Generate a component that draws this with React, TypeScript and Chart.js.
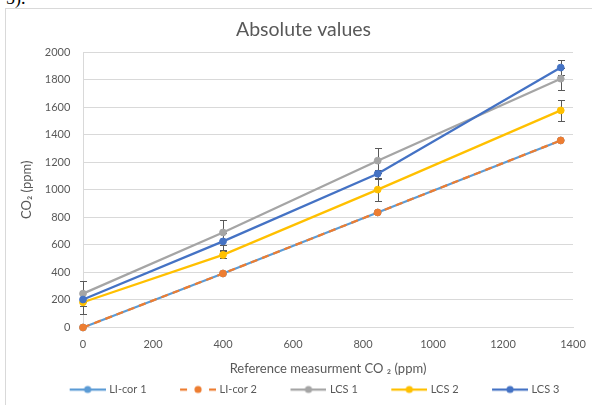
import React, { useEffect, useRef } from 'react';
import { Chart, registerables } from 'chart.js';

Chart.register(...registerables);

// ---- data ----
const xValues = [0, 400, 842, 1365];
const licor1 = [0, 392, 835, 1358];
const licor2 = [0, 392, 835, 1358];
const lcs1 = [246, 690, 1211, 1806];
const lcs2 = [183, 527, 1001, 1576];
const lcs3 = [203, 625, 1116, 1887];
const lcs1Err = [92, 93, 90, 79];
const lcs2Err = [82, 25, 80, 76];
const lcs3Err = [20, 60, 30, 56];

const seriesNames = ['LI-cor 1', 'LI-cor 2', 'LCS 1', 'LCS 2', 'LCS 3'];
const seriesColors = ['#5B9BD5', '#ED7D31', '#A5A5A5', '#FFC000', '#4472C4'];
const chartTitle = 'Absolute values';
const xTitle = 'Reference measurment CO \u2082 (ppm)';
const yTitle = 'CO\u2082 (ppm)';
const xRange = [0, 1400, 200];
const yRange = [0, 2000, 200];

const FONT = 'Lato';
const TEXT = '#595959';
const GRID = '#D9D9D9';

const BOX_W = 56;
const IMG_W = 60;
const LEG_PAD = 11.5;

function makeSymbol(color: string, dashed: boolean) {
  const c = document.createElement('canvas');
  c.width = IMG_W;
  c.height = 10;
  const ctx = c.getContext('2d')!;
  ctx.strokeStyle = color;
  ctx.fillStyle = color;
  ctx.lineWidth = 2.25;
  const s = IMG_W - 36;
  const e = IMG_W;
  ctx.beginPath();
  if (dashed) {
    ctx.moveTo(s, 5); ctx.lineTo(s + 7, 5);
    ctx.moveTo(e - 7, 5); ctx.lineTo(e, 5);
  } else {
    ctx.moveTo(s, 5); ctx.lineTo(e, 5);
  }
  ctx.stroke();
  ctx.beginPath();
  ctx.arc((s + e) / 2, 5, 3.6, 0, Math.PI * 2);
  ctx.fill();
  return c;
}

const errorBarPlugin = {
  id: 'errorBars',
  beforeDatasetsDraw(chart: any) {
    const ctx = chart.ctx;
    const xs = chart.scales.x;
    const ys = chart.scales.y;
    ctx.save();
    ctx.strokeStyle = '#595959';
    ctx.lineWidth = 1;
    chart.data.datasets.forEach((ds: any) => {
      if (!ds.errors) return;
      ds.data.forEach((p: any, i: number) => {
        const e = ds.errors[i];
        if (!e) return;
        const px = Math.round(xs.getPixelForValue(p.x)) + 0.5;
        const top = Math.round(ys.getPixelForValue(p.y + e)) + 0.5;
        const bot = Math.round(ys.getPixelForValue(p.y - e)) + 0.5;
        ctx.beginPath();
        ctx.moveTo(px, top); ctx.lineTo(px, bot);
        ctx.moveTo(px - 3.5, top); ctx.lineTo(px + 3.5, top);
        ctx.moveTo(px - 3.5, bot); ctx.lineTo(px + 3.5, bot);
        ctx.stroke();
      });
    });
    ctx.restore();
  },
};

export default function App() {
  const ref = useRef<HTMLCanvasElement>(null);

  useEffect(() => {
    document.documentElement.style.overflow = 'hidden';
    document.body.style.overflow = 'hidden';
    const values = [licor1, licor2, lcs1, lcs2, lcs3];
    const errs = [null, null, lcs1Err, lcs2Err, lcs3Err];
    const symbols = seriesColors.map((c, i) => makeSymbol(c, i === 1));
    const datasets = values.map((vals, i) => ({
      label: seriesNames[i],
      data: xValues.map((x, j) => ({ x, y: vals[j] })),
      errors: errs[i],
      showLine: true,
      borderColor: seriesColors[i],
      backgroundColor: seriesColors[i],
      pointBackgroundColor: seriesColors[i],
      pointBorderColor: seriesColors[i],
      borderWidth: 2.25,
      borderDash: i === 1 ? [7, 5] : [],
      pointRadius: 3.4,
      pointBorderWidth: 1,
      tension: 0,
      clip: false as any,
      order: 5 - i,
    }));

    const chart = new Chart(ref.current!, {
      type: 'scatter',
      data: { datasets },
      plugins: [errorBarPlugin],
      options: {
        animation: false,
        responsive: false,
        devicePixelRatio: 1,
        layout: { padding: { left: 9, right: 0, top: 0, bottom: 0 } },
        scales: {
          x: {
            type: 'linear',
            min: xRange[0],
            max: xRange[1],
            ticks: {
              stepSize: xRange[2],
              color: TEXT,
              font: { family: FONT, size: 11 },
              padding: 2.4,
              callback: (v: any) => String(v),
            },
            grid: { display: false },
            border: { display: true, color: GRID, width: 1 },
            title: {
              display: true,
              text: xTitle,
              color: TEXT,
              font: { family: FONT, size: 13 },
              padding: { top: 0, bottom: -3.8 },
            },
            afterFit: (s: any) => { s.height = 45; },
          },
          y: {
            type: 'linear',
            min: yRange[0],
            max: yRange[1],
            ticks: {
              stepSize: yRange[2],
              color: TEXT,
              font: { family: FONT, size: 11 },
              padding: 12.7,
              callback: (v: any) => String(v),
            },
            grid: { color: GRID, drawTicks: false, lineWidth: 1 },
            border: { display: true, color: GRID, width: 1 },
            title: {
              display: true,
              text: yTitle,
              color: TEXT,
              font: { family: FONT, size: 13 },
              padding: { top: 3.7, bottom: 0 },
            },
            afterFit: (s: any) => { s.width = 68; },
          },
          yRight: {
            type: 'linear',
            position: 'right',
            display: true,
            grid: { display: false },
            ticks: { display: false },
            border: { display: false },
            afterFit: (s: any) => { s.width = 19; },
          },
        },
        plugins: {
          title: {
            display: true,
            text: chartTitle,
            color: TEXT,
            font: { family: FONT, size: 19.5, weight: 'normal' },
            padding: { top: 9.3, bottom: 10.3 },
          },
          legend: {
            position: 'bottom',
            labels: {
              usePointStyle: true,
              pointStyleWidth: BOX_W,
              padding: LEG_PAD,
              color: TEXT,
              font: { family: FONT, size: 11 },
              generateLabels: () =>
                seriesNames.map((n, i) => ({
                  text: n,
                  fillStyle: seriesColors[i],
                  strokeStyle: seriesColors[i],
                  lineWidth: 0,
                  pointStyle: symbols[i] as any,
                  hidden: false,
                  datasetIndex: i,
                  fontColor: TEXT,
                })),
            },
          },
          tooltip: { enabled: false },
        },
      } as any,
    });
    return () => chart.destroy();
  }, []);

  return (
    <>
      <div
        style={{
          position: 'absolute',
          left: 6,
          top: -11,
          fontFamily: '"Liberation Serif", serif',
          fontSize: 18,
          lineHeight: '18px',
          color: '#000',
        }}
      >
        5).
      </div>
      <div
        style={{
          position: 'absolute',
          left: 5,
          top: 8,
          width: 587,
          height: 397,
          boxSizing: 'border-box',
          borderLeft: `1px solid ${GRID}`,
          borderTop: `1px solid ${GRID}`,
          background: '#fff',
          overflow: 'hidden',
        }}
      >
        <canvas ref={ref} width={586} height={396} style={{ display: 'block' }} />
      </div>
    </>
  );
}
